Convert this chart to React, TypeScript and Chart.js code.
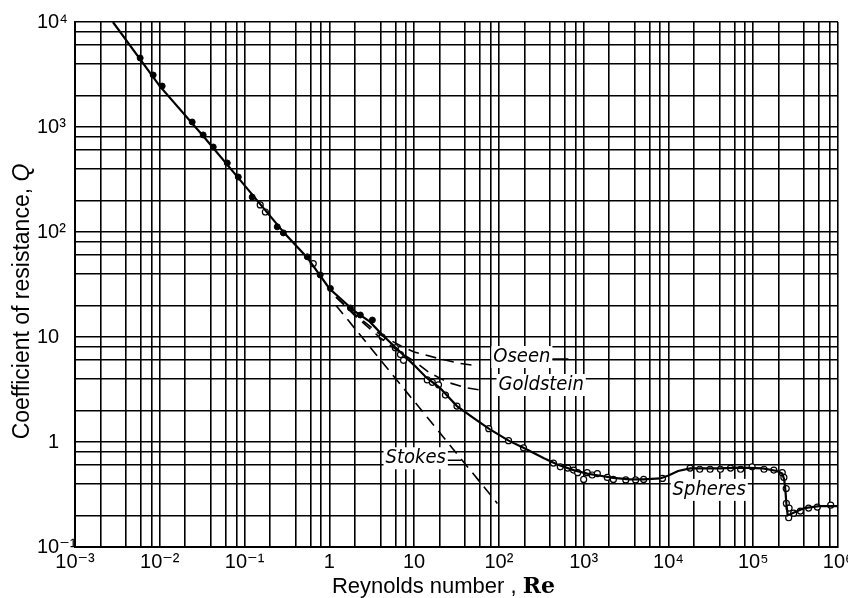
import React, { useEffect, useRef } from 'react';
import { Chart, registerables } from 'chart.js';

Chart.register(...registerables);

// ---- Data (Reynolds number Re, coefficient of resistance Q) ----
const mainRe = [0.0028, 0.01, 0.0325, 0.1, 0.3, 0.55, 1, 2, 3, 4.2, 6, 10, 14, 20, 32, 50, 76, 130, 195, 340, 490, 760, 1100, 1500, 2240, 3500, 5000, 8000, 10000, 13000, 18000, 40000, 70000, 130000, 190000, 220000, 232000, 240000, 246000, 255000, 290000, 400000, 600000, 1000000];
const mainQ = [10000, 2450, 820, 278, 96, 57, 29, 17.5, 14, 10.5, 8.0, 5.4, 4.1, 3.3, 2.2, 1.7, 1.34, 1.03, 0.88, 0.70, 0.61, 0.54, 0.50, 0.48, 0.455, 0.44, 0.44, 0.45, 0.48, 0.53, 0.56, 0.56, 0.57, 0.56, 0.53, 0.50, 0.44, 0.34, 0.26, 0.20, 0.21, 0.235, 0.245, 0.245];

const filledRe = [0.00587, 0.00836, 0.01067, 0.0241, 0.0325, 0.0427, 0.0625, 0.0843, 0.123, 0.243, 0.287, 0.55, 0.78, 1.03, 1.77, 2.32, 3.22];
const filledQ = [4540, 3126, 2455, 1116, 840, 645, 454, 334, 215, 112, 98, 58, 39, 29, 18.9, 16.2, 14.5];

const openRe = [0.153, 0.176, 0.646, 4.2, 6.0, 6.9, 7.5, 14.3, 16.4, 19.4, 23.4, 32, 76, 130, 195, 440, 530, 650, 760, 850, 1000, 1100, 1260, 1450, 1900, 2240, 3140, 4100, 5100, 8500, 18000, 23400, 31000, 41000, 54000, 71000, 97000, 134000, 175000, 220000, 230000, 245000, 246000, 265000, 262000, 300000, 360000, 450000, 570000, 820000];
const openQ = [181, 155, 50, 10, 7.9, 6.8, 6.0, 3.9, 3.7, 3.5, 2.8, 2.2, 1.34, 1.03, 0.88, 0.63, 0.58, 0.565, 0.54, 0.51, 0.44, 0.51, 0.485, 0.5, 0.46, 0.44, 0.435, 0.435, 0.44, 0.45, 0.565, 0.55, 0.55, 0.55, 0.565, 0.55, 0.58, 0.55, 0.54, 0.51, 0.46, 0.36, 0.26, 0.235, 0.19, 0.21, 0.22, 0.235, 0.24, 0.25];

const stokesRe = [1.2, 96];
const stokesQ = [20, 0.26];

const oseenRe = [1.2, 2, 4, 7, 10, 20, 35, 57];
const oseenQ = [24, 16.5, 10.5, 8.2, 7.2, 6.2, 5.6, 5.3];

const goldsteinRe = [1.2, 2, 4, 7, 10, 15, 25, 40, 60];
const goldsteinQ = [24, 16, 9.8, 7.0, 5.9, 4.6, 3.7, 3.3, 3.13];

// ---- Axis ticks ----
const xMajorTicks = [1e-3, 1e-2, 1e-1, 1, 10, 100, 1e3, 1e4, 1e5, 1e6];
const xTickLabels = ['10⁻³', '10⁻²', '10⁻¹', '1', '10', '10²', '10³', '10⁴', '10⁵', '10⁶'];
const yMajorTicks = [0.1, 1, 10, 100, 1e3, 1e4];
const yTickLabels = ['10⁻¹', '\u20071', '10', '10²', '10³', '10⁴'];
const minorSteps = [2, 4, 6, 8];

// ---- Curve labels (anchor in data units) ----
const curveLabels = [
  { text: 'Oseen', re: 86, q: 6.45, trailRe: 660 },
  { text: 'Goldstein', re: 99, q: 3.49, trailRe: 0 },
  { text: 'Stokes', re: 4.6, q: 0.7, trailRe: 36 },
  { text: 'Spheres', re: 11200, q: 0.35, trailRe: 0 },
];

const LABEL_FONT = '"DejaVu Sans Condensed", "DejaVu Sans", sans-serif';
const TICK_FONT = '"Liberation Sans", "DejaVu Sans", sans-serif';

function toXY(xs: number[], ys: number[]) {
  return xs.map((x, i) => ({ x, y: ys[i] }));
}

function allTicks(majors: number[]) {
  const out: number[] = [];
  majors.forEach((m, i) => {
    out.push(m);
    if (i < majors.length - 1) minorSteps.forEach((s) => out.push(m * s));
  });
  return out;
}

function labelFor(v: number, majors: number[], labels: string[]) {
  const idx = majors.findIndex((m) => Math.abs(Math.log10(m) - Math.log10(v)) < 1e-6);
  return idx >= 0 ? labels[idx] : '';
}

const textPlugin = {
  id: 'textPlugin',
  afterDatasetsDraw(chart: any) {
    const { ctx, scales, chartArea } = chart;
    const x = scales.x;
    const y = scales.y;
    ctx.save();
    // curve labels
    ctx.font = 'italic 20px ' + LABEL_FONT;
    ctx.textBaseline = 'middle';
    ctx.textAlign = 'left';
    for (const a of curveLabels) {
      const px = x.getPixelForValue(a.re);
      const py = y.getPixelForValue(a.q);
      const w = ctx.measureText(a.text).width;
      ctx.fillStyle = '#fff';
      ctx.fillRect(px - 2, py - 11, w + 4, 22);
      ctx.fillStyle = '#000';
      ctx.fillText(a.text, px, py);
      if (a.trailRe) {
        const ex = x.getPixelForValue(a.trailRe);
        ctx.strokeStyle = '#000';
        ctx.lineWidth = 1.5;
        ctx.beginPath();
        ctx.moveTo(px + w + 2, py + 2);
        ctx.lineTo(ex, py + 2);
        ctx.stroke();
      }
    }
    // axis titles
    ctx.fillStyle = '#000';
    ctx.font = '23px "Liberation Sans", Arial, sans-serif';
    const yt1 = 'Coefficient of resistance, ';
    const yt2 = 'Q';
    ctx.save();
    const cy = (chartArea.top + chartArea.bottom) / 2 + 17;
    ctx.translate(23, cy);
    ctx.rotate(-Math.PI / 2);
    ctx.textBaseline = 'middle';
    ctx.textAlign = 'left';
    const w1 = ctx.measureText(yt1).width;
    ctx.font = 'italic 23px "Liberation Sans", Arial, sans-serif';
    const w2 = ctx.measureText(yt2).width;
    const start = -(w1 + w2) / 2;
    ctx.font = '23px "Liberation Sans", Arial, sans-serif';
    ctx.fillText(yt1, start, 0);
    ctx.font = 'italic 23px "Liberation Sans", Arial, sans-serif';
    ctx.fillText(yt2, start + w1, 0);
    ctx.restore();

    const xt1 = 'Reynolds number , ';
    const xt2 = 'Re';
    ctx.textBaseline = 'alphabetic';
    ctx.textAlign = 'left';
    ctx.font = '22px "Liberation Sans", Arial, sans-serif';
    const xw1 = ctx.measureText(xt1).width;
    ctx.font = 'bold 22px "DejaVu Serif", serif';
    const xw2 = ctx.measureText(xt2).width;
    const cx = (chartArea.left + chartArea.right) / 2 - 13;
    const xs = cx - (xw1 + xw2) / 2;
    ctx.font = '22px "Liberation Sans", Arial, sans-serif';
    ctx.fillText(xt1, xs, 593);
    ctx.font = 'bold 22px "DejaVu Serif", serif';
    ctx.fillText(xt2, xs + xw1, 593);
    ctx.restore();
  },
};

export default function App() {
  const ref = useRef<HTMLCanvasElement | null>(null);
  useEffect(() => {
    if (!ref.current) return;
    const lineDs = (label: string, xs: number[], ys: number[], width: number, dash: number[]) => ({
      label,
      data: toXY(xs, ys),
      showLine: true,
      borderColor: '#000',
      backgroundColor: '#000',
      borderWidth: width,
      borderDash: dash,
      pointRadius: 0,
      tension: 0,
      clip: 0,
    });
    const chart = new Chart(ref.current, {
      type: 'scatter',
      data: {
        datasets: [
          lineDs('Spheres', mainRe, mainQ, 2.2, []),
          lineDs('Stokes', stokesRe, stokesQ, 1.6, [11, 7]),
          lineDs('Oseen', oseenRe, oseenQ, 1.6, [11, 7]),
          lineDs('Goldstein', goldsteinRe, goldsteinQ, 1.6, [11, 7]),
          {
            label: 'filled',
            data: toXY(filledRe, filledQ),
            showLine: false,
            pointRadius: 3,
            pointBackgroundColor: '#000',
            pointBorderColor: '#000',
            pointBorderWidth: 1,
          },
          {
            label: 'open',
            data: toXY(openRe, openQ),
            showLine: false,
            pointRadius: 3,
            pointBackgroundColor: '#fff',
            pointBorderColor: '#000',
            pointBorderWidth: 1.2,
          },
        ] as any,
      },
      options: {
        animation: false,
        responsive: true,
        maintainAspectRatio: false,
        layout: { padding: { left: 37, top: 22, right: 10, bottom: 0 } },
        plugins: { legend: { display: false }, tooltip: { enabled: false } },
        scales: {
          x: {
            type: 'logarithmic',
            min: 1e-3,
            max: 1e6,
            afterBuildTicks: (s: any) => {
              s.ticks = allTicks(xMajorTicks).map((v) => ({ value: v }));
            },
            afterFit: (s: any) => {
              s.height = 51;
              s.paddingLeft = 0;
              s.paddingRight = 0;
            },
            ticks: {
              autoSkip: false,
              maxRotation: 0,
              minRotation: 0,
              padding: 3,
              color: '#000',
              font: { family: TICK_FONT, size: 20 },
              callback: (v: any) => labelFor(Number(v), xMajorTicks, xTickLabels),
            },
            grid: { color: '#000', lineWidth: 1.6, drawTicks: false },
            border: { color: '#000', width: 2 },
          },
          y: {
            type: 'logarithmic',
            min: 0.1,
            max: 1e4,
            afterBuildTicks: (s: any) => {
              s.ticks = allTicks(yMajorTicks).map((v) => ({ value: v }));
            },
            afterFit: (s: any) => {
              s.width = 38;
              s.paddingTop = 0;
              s.paddingBottom = 0;
            },
            ticks: {
              autoSkip: false,
              crossAlign: 'far',
              padding: 4,
              color: '#000',
              font: { family: TICK_FONT, size: 20 },
              callback: (v: any) => labelFor(Number(v), yMajorTicks, yTickLabels),
            },
            grid: { color: '#000', lineWidth: 1.6, drawTicks: false },
            border: { color: '#000', width: 2 },
          },
        },
      } as any,
      plugins: [textPlugin],
    });
    return () => chart.destroy();
  }, []);
  return (
    <div style={{ position: 'absolute', left: 0, top: 0, width: 848, height: 598, background: '#fff' }}>
      <canvas ref={ref} />
    </div>
  );
}
